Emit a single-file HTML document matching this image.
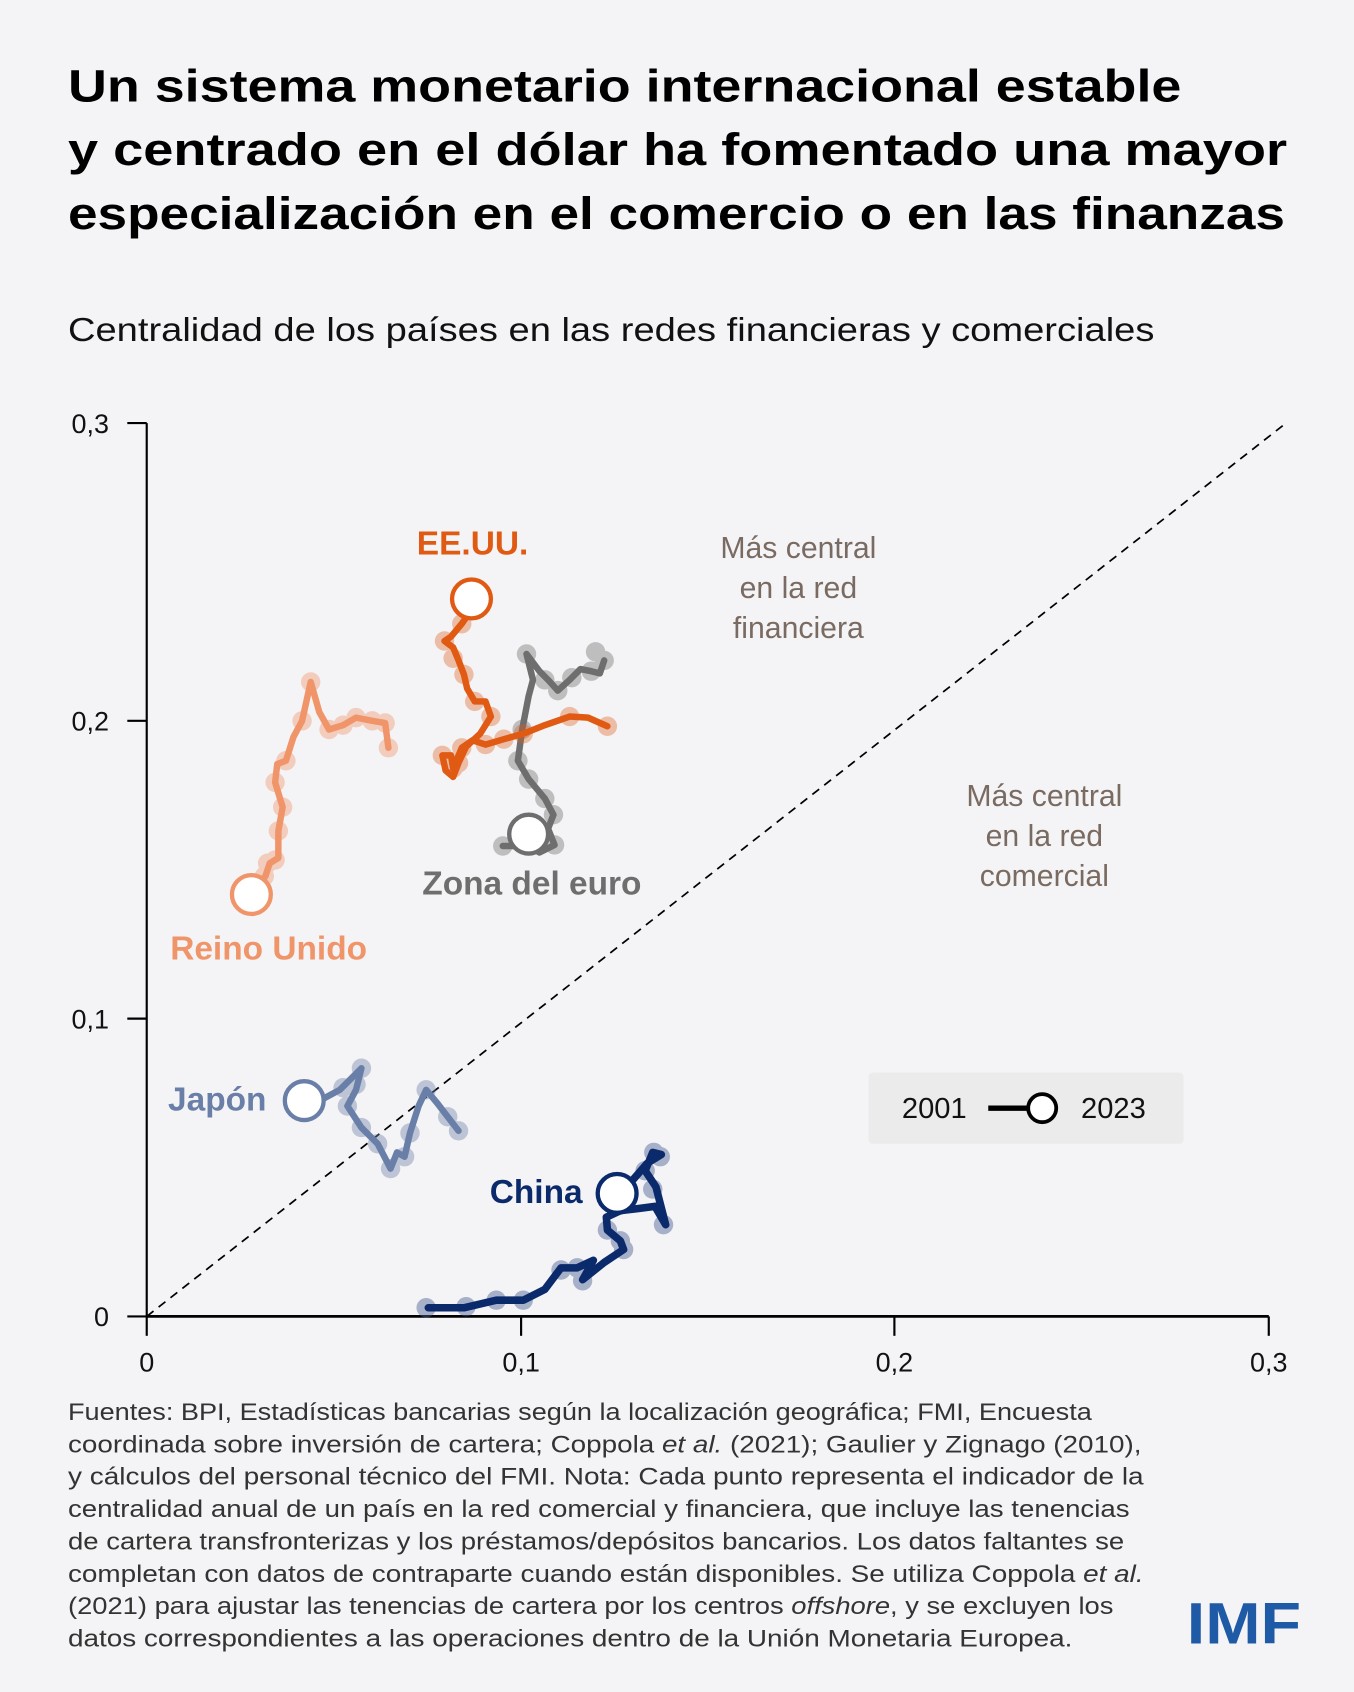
<!DOCTYPE html>
<html><head><meta charset="utf-8"><style>
html,body{margin:0;padding:0;background:#f4f4f6;}
svg{display:block;}
text{font-family:"Liberation Sans",sans-serif;}
</style></head><body>
<svg width="1354" height="1692" viewBox="0 0 1255 1568" xmlns="http://www.w3.org/2000/svg">
<rect width="1255" height="1568" fill="#f4f4f6"/>
<g font-weight="bold" font-size="42" fill="#000">
<text x="63" y="94" textLength="1032" lengthAdjust="spacingAndGlyphs">Un sistema monetario internacional estable</text>
<text x="63" y="153" textLength="1130" lengthAdjust="spacingAndGlyphs">y centrado en el dólar ha fomentado una mayor</text>
<text x="63" y="212" textLength="1128" lengthAdjust="spacingAndGlyphs">especialización en el comercio o en las finanzas</text>
</g>
<text x="63" y="316" font-size="31" fill="#111" textLength="1007" lengthAdjust="spacingAndGlyphs">Centralidad de los países en las redes financieras y comerciales</text>

<g stroke="#000" stroke-width="2" fill="none">
<line x1="136" y1="392" x2="136" y2="1220"/>
<line x1="136" y1="1220" x2="1176" y2="1220" stroke-width="2.5"/>
<line x1="118" y1="392" x2="136" y2="392"/>
<line x1="118" y1="668" x2="136" y2="668"/>
<line x1="118" y1="944" x2="136" y2="944"/>
<line x1="118" y1="1220" x2="136" y2="1220"/>
<line x1="136" y1="1220" x2="136" y2="1238"/>
<line x1="483" y1="1220" x2="483" y2="1238"/>
<line x1="829" y1="1220" x2="829" y2="1238"/>
<line x1="1176" y1="1220" x2="1176" y2="1238"/>
<line x1="136" y1="1220" x2="1192" y2="392" stroke-width="1.6" stroke-dasharray="8,6"/>
</g>
<g font-size="25" fill="#111">
<text x="101" y="401" text-anchor="end">0,3</text>
<text x="101" y="677" text-anchor="end">0,2</text>
<text x="101" y="953" text-anchor="end">0,1</text>
<text x="101" y="1229" text-anchor="end">0</text>
<text x="136" y="1271" text-anchor="middle">0</text>
<text x="483" y="1271" text-anchor="middle">0,1</text>
<text x="829" y="1271" text-anchor="middle">0,2</text>
<text x="1176" y="1271" text-anchor="middle">0,3</text>
</g>

<g font-size="28" fill="#7a6b62" text-anchor="middle">
<text x="740" y="517">Más central</text>
<text x="740" y="554">en la red</text>
<text x="740" y="591">financiera</text>
<text x="968" y="747">Más central</text>
<text x="968" y="784">en la red</text>
<text x="968" y="821">comercial</text>
</g>

<g stroke-linecap="round" stroke-linejoin="round">
<g fill="#f0956a" opacity="0.4">
<circle cx="360" cy="693" r="9"/><circle cx="357" cy="670" r="9"/><circle cx="345" cy="668" r="9"/><circle cx="330" cy="665" r="9"/><circle cx="318" cy="672" r="9"/><circle cx="305" cy="676" r="9"/><circle cx="288" cy="632" r="9"/><circle cx="280" cy="668" r="9"/><circle cx="265" cy="705" r="9"/><circle cx="255" cy="725" r="9"/><circle cx="262" cy="748" r="9"/><circle cx="258" cy="770" r="9"/><circle cx="255" cy="797" r="9"/><circle cx="248" cy="800" r="9"/><circle cx="245" cy="812" r="9"/>
</g>
<polyline fill="none" stroke="#f0956a" stroke-width="6" points="360,693 357,670 345,668 330,665 318,672 305,676 296,660 288,632 280,668 272,683 265,705 257,708 255,725 262,748 258,770 258,795 250,800 246,812 238,822"/>
<circle cx="233" cy="829" r="18" fill="#fff" stroke="#f0956a" stroke-width="4"/>

<g fill="#6e6e6e" opacity="0.4">
<circle cx="552" cy="604" r="9"/><circle cx="560" cy="612" r="9"/><circle cx="548" cy="622" r="9"/><circle cx="530" cy="628" r="9"/><circle cx="517" cy="640" r="9"/><circle cx="505" cy="630" r="9"/><circle cx="488" cy="606" r="9"/><circle cx="484" cy="676" r="9"/><circle cx="480" cy="705" r="9"/><circle cx="490" cy="722" r="9"/><circle cx="505" cy="740" r="9"/><circle cx="513" cy="755" r="9"/><circle cx="514" cy="783" r="9"/><circle cx="466" cy="784" r="9"/>
</g>
<polyline fill="none" stroke="#6e6e6e" stroke-width="6" points="560,612 556,624 548,622 538,620 528,630 517,640 508,630 500,622 488,606 494,630 490,645 484,676 480,705 490,722 505,740 513,755 508,768 514,783 500,790 490,784 466,784"/>
<circle cx="490" cy="773" r="18" fill="#fff" stroke="#6e6e6e" stroke-width="4"/>

<g fill="#e05a13" opacity="0.35">
<circle cx="563" cy="673" r="9"/><circle cx="528" cy="664" r="9"/><circle cx="485" cy="680" r="9"/><circle cx="467" cy="685" r="9"/><circle cx="450" cy="690" r="9"/><circle cx="428" cy="693" r="9"/><circle cx="420" cy="712" r="9"/><circle cx="410" cy="700" r="9"/><circle cx="425" cy="707" r="9"/><circle cx="455" cy="664" r="9"/><circle cx="440" cy="650" r="9"/><circle cx="430" cy="625" r="9"/><circle cx="420" cy="610" r="9"/><circle cx="412" cy="594" r="9"/><circle cx="428" cy="578" r="9"/>
</g>
<polyline fill="none" stroke="#e05a13" stroke-width="6" points="563,673 545,665 528,664 505,672 485,680 467,685 450,690 438,686 428,693 420,712 418,700 410,700 413,714 420,720 425,707 432,692 445,680 455,664 450,650 440,650 433,638 430,625 425,612 420,600 412,594 418,590 428,578 437,565"/>
<circle cx="437" cy="555" r="18" fill="#fff" stroke="#e05a13" stroke-width="4"/>

<g fill="#6a7fa8" opacity="0.4">
<circle cx="425" cy="1048" r="9"/><circle cx="415" cy="1035" r="9"/><circle cx="395" cy="1010" r="9"/><circle cx="380" cy="1050" r="9"/><circle cx="375" cy="1072" r="9"/><circle cx="362" cy="1083" r="9"/><circle cx="350" cy="1060" r="9"/><circle cx="335" cy="1045" r="9"/><circle cx="322" cy="1025" r="9"/><circle cx="330" cy="1005" r="9"/><circle cx="335" cy="990" r="9"/><circle cx="318" cy="1008" r="9"/>
</g>
<polyline fill="none" stroke="#6a7fa8" stroke-width="6" points="425,1048 415,1035 405,1022 395,1010 388,1025 380,1050 375,1072 368,1068 362,1083 350,1060 335,1045 322,1025 330,1010 335,990 325,1000 315,1010 300,1018"/>
<circle cx="282" cy="1020" r="18" fill="#fff" stroke="#6a7fa8" stroke-width="4"/>

<g fill="#4a5f94" opacity="0.45">
<circle cx="395" cy="1212" r="9"/><circle cx="432" cy="1211" r="9"/><circle cx="460" cy="1205" r="9"/><circle cx="485" cy="1205" r="9"/><circle cx="520" cy="1177" r="9"/><circle cx="535" cy="1175" r="9"/><circle cx="540" cy="1187" r="9"/><circle cx="578" cy="1158" r="9"/><circle cx="563" cy="1140" r="9"/><circle cx="575" cy="1150" r="9"/><circle cx="605" cy="1102" r="9"/><circle cx="615" cy="1135" r="9"/><circle cx="598" cy="1085" r="9"/><circle cx="606" cy="1068" r="9"/><circle cx="612" cy="1072" r="9"/>
</g>
<polyline fill="none" stroke="#0b2a6b" stroke-width="7" points="397,1212 430,1212 460,1205 485,1205 505,1195 520,1175 535,1175 550,1168 540,1186 560,1170 578,1158 575,1150 563,1140 562,1128 575,1122 592,1120 607,1118 617,1135 608,1100 598,1085 605,1068 613,1070 600,1078 587,1093 575,1104"/>
<circle cx="572" cy="1106" r="18" fill="#fff" stroke="#0b2a6b" stroke-width="4"/>
</g>

<g font-weight="bold" font-size="31">
<text x="438" y="514" text-anchor="middle" fill="#e05a13">EE.UU.</text>
<text x="249" y="889" text-anchor="middle" fill="#f0956a">Reino Unido</text>
<text x="493" y="829" text-anchor="middle" fill="#6e6e6e">Zona del euro</text>
<text x="247" y="1029" text-anchor="end" fill="#6a7fa8">Japón</text>
<text x="540" y="1115" text-anchor="end" fill="#0b2a6b">China</text>
</g>

<rect x="805" y="994" width="292" height="66" rx="4" fill="#ebebeb"/>
<text x="866" y="1036" font-size="27" text-anchor="middle" fill="#111">2001</text>
<line x1="916" y1="1027" x2="956" y2="1027" stroke="#000" stroke-width="5"/>
<circle cx="966" cy="1027" r="13" fill="#fff" stroke="#000" stroke-width="3.5"/>
<text x="1032" y="1036" font-size="27" text-anchor="middle" fill="#111">2023</text>

<g font-size="22" fill="#333">
<text x="63" y="1316" textLength="949" lengthAdjust="spacingAndGlyphs">Fuentes: BPI, Estadísticas bancarias según la localización geográfica; FMI, Encuesta</text>
<text x="63" y="1346" textLength="995" lengthAdjust="spacingAndGlyphs">coordinada sobre inversión de cartera; Coppola <tspan font-style="italic">et al.</tspan> (2021); Gaulier y Zignago (2010),</text>
<text x="63" y="1376" textLength="997" lengthAdjust="spacingAndGlyphs">y cálculos del personal técnico del FMI. Nota: Cada punto representa el indicador de la</text>
<text x="63" y="1406" textLength="984" lengthAdjust="spacingAndGlyphs">centralidad anual de un país en la red comercial y financiera, que incluye las tenencias</text>
<text x="63" y="1436" textLength="979" lengthAdjust="spacingAndGlyphs">de cartera transfronterizas y los préstamos/depósitos bancarios. Los datos faltantes se</text>
<text x="63" y="1466" textLength="997" lengthAdjust="spacingAndGlyphs">completan con datos de contraparte cuando están disponibles. Se utiliza Coppola <tspan font-style="italic">et al.</tspan></text>
<text x="63" y="1496" textLength="969" lengthAdjust="spacingAndGlyphs">(2021) para ajustar las tenencias de cartera por los centros <tspan font-style="italic">offshore</tspan>, y se excluyen los</text>
<text x="63" y="1526" textLength="931" lengthAdjust="spacingAndGlyphs">datos correspondientes a las operaciones dentro de la Unión Monetaria Europea.</text>
</g>
<text x="1100" y="1523" font-size="54" font-weight="bold" fill="#1f5aa6" textLength="106" lengthAdjust="spacingAndGlyphs">IMF</text>
</svg>
</body></html>
